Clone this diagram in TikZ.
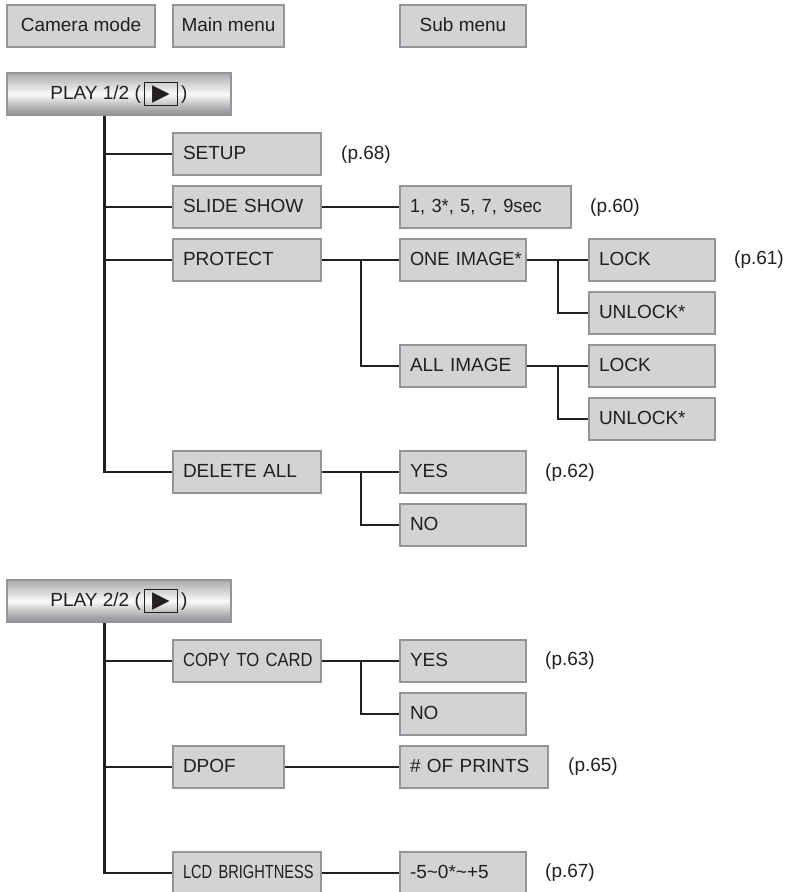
\documentclass[tikz,border=0pt]{standalone}
\usepackage{fontspec}
\setmainfont{Liberation Sans}
\newfontfamily\symfont{DejaVu Sans}
\newfontfamily\narrowa[FakeStretch=0.875]{Liberation Sans}
\newfontfamily\narrowb[FakeStretch=0.77]{Liberation Sans}
\newfontfamily\narrowc[FakeStretch=0.96]{Liberation Sans}
\definecolor{boxfill}{HTML}{D1D3D4}
\definecolor{boxline}{HTML}{939598}
\definecolor{ink}{HTML}{231F20}
\pgfdeclareverticalshading{playshade}{100bp}{
  color(0bp)=(boxline!85!black);
  color(30bp)=(boxline!90!white);
  color(50bp)=(white!95!boxline);
  color(75bp)=(boxline!80!white);
  color(100bp)=(boxline!85!black)}
\newcommand{\playicon}{\setlength{\fboxsep}{0pt}\setlength{\fboxrule}{1pt}\raisebox{-1pt}{\fbox{\makebox[32pt]{\rule[-5pt]{0pt}{22pt}\symfont\fontsize{23}{23}\selectfont ▶}}}}
\tikzset{
  menu/.style={rectangle,draw=boxline,fill=boxfill,line width=2pt,text=ink,
    minimum height=42pt,inner xsep=0pt,inner ysep=0pt,align=left,
    text height=13.6pt,text depth=2pt,
    execute at begin node={\hspace*{10pt}\hbox to 0pt\bgroup},
    execute at end node={\hss\egroup}},
  itemw/.style={menu,text width=148pt},
  itemm/.style={menu,text width=126pt},
  itemn/.style={menu,text width=111pt},
  itemx/.style={menu,text width=171pt},
  legendbox/.style={rectangle,draw=boxline,fill=boxfill,line width=2pt,text=ink,
    minimum height=42pt,inner xsep=0pt,inner ysep=0pt,minimum width=#1,
    text height=13.6pt,text depth=2pt},
  playbox/.style={draw=boxline,line width=2pt,shading=playshade,text=ink,
    minimum width=224pt,minimum height=42pt,inner ysep=0pt},
  pageref/.style={text=ink,inner sep=0pt},
  elbow/.style={to path={|- (\tikztotarget)}}
}
\begin{document}
\begin{tikzpicture}[x=1pt,y=-1pt,font=\fontsize{19}{22}\selectfont]
        \useasboundingbox (0,0) rectangle (787,892);

        \node[legendbox=148pt] (camera) at (81,26)  {Camera mode};
        \node[legendbox=111pt] (main)   at (228.5,26) {Main menu};
        \node[legendbox=126pt] (sub)    at (463,26) {Sub menu};

        \node[playbox] (play1) at (119,94) {PLAY 1/2 (\,\playicon\,)};
        \node[playbox] (play2) at (119,601) {PLAY 2/2 (\,\playicon\,)};

        \begin{scope}[every node/.style={itemw}]
          \node (setup)   at (247,154) {SETUP};
          \node (slide)   at (247,207) {SLIDE SHOW};
          \node (protect) at (247,260) {PROTECT};
          \node (delete)  at (247,472) {DELETE ALL};
          \node (copy)    at (247,661) {\narrowa COPY TO CARD};
          \node (lcd)     at (247,873) {\narrowb LCD BRIGHTNESS};
          \node (prints)  at (474,767) {\# OF PRINTS};
        \end{scope}

        \node[itemn] (dpof) at (228.5,767) {DPOF};
        \node[itemx] (secs) at (485.5,207) {\narrowc 1, 3*, 5, 7, 9sec};

        \begin{scope}[every node/.style={itemm}]
          \node (one)     at (463,260) {\narrowc ONE IMAGE*};
          \node (all)     at (463,366) {ALL IMAGE};
          \node (yes1)    at (463,472) {YES};
          \node (no1)     at (463,525) {NO};
          \node (yes2)    at (463,661) {YES};
          \node (no2)     at (463,714) {NO};
          \node (bright)  at (463,873) {-5\textasciitilde 0*\textasciitilde +5};
          \node (lock1)   at (652,260) {LOCK};
          \node (unlock1) at (652,313) {UNLOCK*};
          \node (lock2)   at (652,366) {LOCK};
          \node (unlock2) at (652,419) {UNLOCK*};
        \end{scope}

        \begin{scope}[every node/.style={pageref}]
          \node (p68) at (366,155) {(p.68)};
          \node (p60) at (615,208) {(p.60)};
          \node (p61) at (759,260) {(p.61)};
          \node (p62) at (570,473) {(p.62)};
          \node (p63) at (570,661) {(p.63)};
          \node (p65) at (593,767) {(p.65)};
          \node (p67) at (570,873) {(p.67)};
        \end{scope}

        \coordinate (trunk1) at (104,116);
        \coordinate (trunk2) at (104,623);
        \coordinate (foot1)  at (104,473);
        \coordinate (foot2)  at (104,874);
        \coordinate (fork1)  at (361,260);
        \coordinate (fork2)  at (558,260);
        \coordinate (fork3)  at (558,366);
        \coordinate (fork4)  at (361,472);
        \coordinate (fork5)  at (361,661);

        \begin{scope}[every edge/.style={draw=ink,line width=2.4pt}]
          \path (trunk1) edge[elbow] (setup);
          \path (trunk1) edge[elbow] (slide);
          \path (trunk1) edge[elbow] (protect);
          \path (trunk1) edge[elbow] (delete);
          \path (slide)   edge (secs);
          \path (protect) edge (one);
          \path (fork1)   edge[elbow] (all);
          \path (one)     edge (lock1);
          \path (fork2)   edge[elbow] (unlock1);
          \path (all)     edge (lock2);
          \path (fork3)   edge[elbow] (unlock2);
          \path (delete)  edge (yes1);
          \path (fork4)   edge[elbow] (no1);
          \path (trunk2) edge[elbow] (copy);
          \path (trunk2) edge[elbow] (dpof);
          \path (trunk2) edge[elbow] (lcd);
          \path (copy)    edge (yes2);
          \path (fork5)   edge[elbow] (no2);
          \path (dpof)    edge (prints);
          \path (lcd)     edge (bright);
        \end{scope}

        \begin{scope}[every edge/.style={draw=ink,line width=3pt}]
          \path (trunk1) edge (foot1);
          \path (trunk2) edge (foot2);
        \end{scope}

      \end{tikzpicture}
\end{document}
